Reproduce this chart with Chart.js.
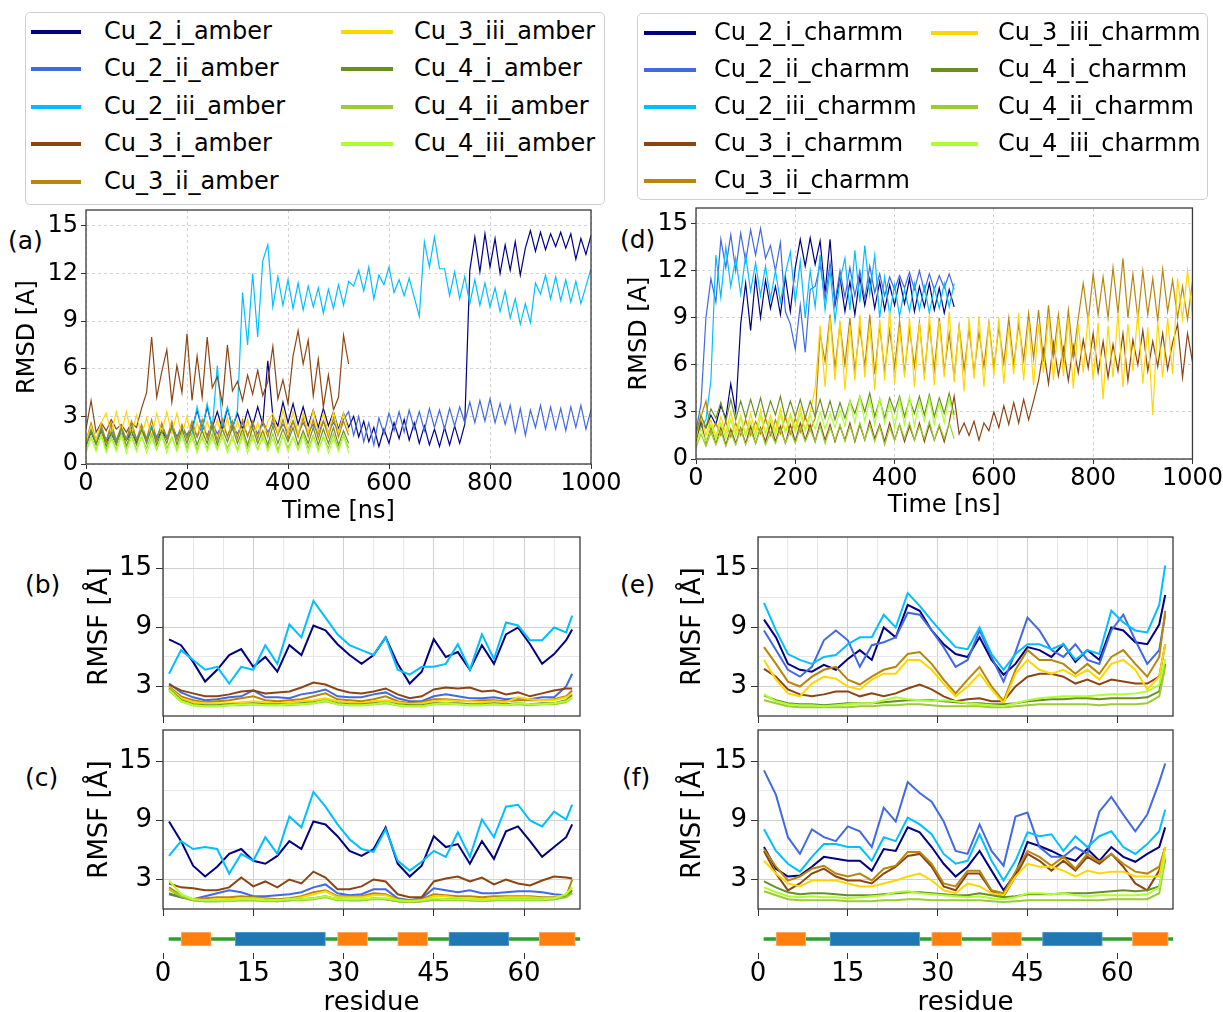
<!DOCTYPE html>
<html>
<head>
<meta charset="utf-8">
<script src="https://cdn.jsdelivr.net/npm/chart.js@4.4.1/dist/chart.umd.min.js"></script>
<style>
body { margin: 0; width: 1223px; height: 1012px; overflow: hidden; background: #fff; position: relative; font-family: "DejaVu Sans", sans-serif; color: #000; }
canvas { position: absolute; }
.legend { position: absolute; border: 1px solid #cfcfcf; border-radius: 5px; box-sizing: border-box; background: #fff; }
.legend .sw { position: absolute; height: 4px; }
.legend .tx { position: absolute; font-size: 24px; line-height: 28px; white-space: nowrap; }
.tag { position: absolute; font-size: 25px; line-height: 30px; }
</style>
</head>
<body>
<div class="tag" style="left:8px;top:226px">(a)</div>
<div class="tag" style="left:620px;top:225px">(d)</div>
<div class="tag" style="left:25px;top:570px">(b)</div>
<div class="tag" style="left:25px;top:763px">(c)</div>
<div class="tag" style="left:620px;top:570px">(e)</div>
<div class="tag" style="left:622px;top:763px">(f)</div>
<canvas id="chartA"></canvas>
<canvas id="chartD"></canvas>
<canvas id="chartB"></canvas>
<canvas id="chartC"></canvas>
<canvas id="chartE"></canvas>
<canvas id="chartF"></canvas>
<canvas id="ssLeft"></canvas>
<canvas id="ssRight"></canvas>
<script>
const names = ['Cu_2_i', 'Cu_2_ii', 'Cu_2_iii', 'Cu_3_i', 'Cu_3_ii', 'Cu_3_iii', 'Cu_4_i', 'Cu_4_ii', 'Cu_4_iii'];
const colors = ['#000080', '#4169e1', '#00bfff', '#8b4513', '#b8860b', '#ffd700', '#6b8e23', '#9acd32', '#adff2f'];

// RMSD sampled every 10 ns
const timeNs = Array.from({length: 101}, (_, i) => i * 10);
const rmsdTickStep = 3;
const timeTickStep = 200;

// amber runs
const rmsdA_2i = [1.2,2.0,1.3,2.1,1.4,1.9,1.3,2.2,1.5,2.0,1.4,2.2,1.6,2.3,1.5,2.1,1.6,2.4,1.7,2.2,1.8,
  2.2,3.4,2.2,3.6,2.3,3.3,2.2,3.5,2.3,3.2,2.2,3.4,2.4,3.6,2.5,6.5,3.0,2.4,3.9,2.6,3.8,2.5,3.6,2.4,3.4,2.3,3.5,2.4,3.3,2.2,3.2,2.3,
  3.0,1.7,2.7,1.4,2.3,1.1,2.2,1.3,2.6,1.6,2.8,1.5,2.6,1.3,2.4,1.2,2.2,1.1,2.3,1.2,2.4,1.3,2.5,
  12.2,14.3,12.1,14.5,12.4,14.2,12.0,13.8,12.2,14.0,11.9,13.6,14.7,13.4,14.6,13.5,14.5,13.7,14.6,13.6,14.5,12.9,14.2,13.2,14.4];
const rmsdA_2ii = [1.3,2.0,1.4,2.1,1.5,2.2,1.4,2.0,1.5,2.3,1.6,2.1,1.5,2.3,1.7,2.4,1.6,2.2,1.7,2.4,
  1.8,2.5,1.7,2.4,1.8,2.6,1.9,2.5,1.8,2.4,1.9,2.6,1.8,2.5,1.9,2.7,2.0,2.6,1.9,2.5,
  2.0,2.7,1.9,2.6,2.0,2.5,1.9,2.7,2.0,2.6,2.1,2.8,
  3.3,1.8,3.0,1.4,2.6,1.2,2.9,1.9,3.2,2.1,3.3,2.0,3.4,2.2,3.3,2.1,3.5,2.3,3.4,2.2,
  3.5,2.4,3.6,2.6,3.9,2.6,4.0,2.7,4.1,2.6,3.8,2.5,3.7,2.0,3.5,1.8,3.4,2.3,3.7,2.2,
  3.6,2.2,3.5,2.1,3.6,2.3,3.7,2.2,3.4];
const rmsdA_2iii = [1.3,2.2,1.4,2.3,1.5,2.4,1.4,2.2,1.6,2.5,1.5,2.3,1.6,2.4,1.5,2.5,1.7,2.3,1.6,2.4,1.7,
  1.9,3.6,2.1,3.8,2.2,6.2,2.5,3.6,2.2,3.4,
  10.8,7.5,12.0,8.0,12.8,13.8,9.9,11.8,10.0,11.6,
  9.8,11.4,9.7,11.2,9.9,11.1,9.5,11.0,9.8,11.3,
  10.0,11.5,11.2,12.2,10.9,12.4,10.4,11.9,11.3,12.4,
  10.8,11.6,10.6,11.7,10.5,9.3,14.0,12.4,14.3,12.3,
  12.3,10.6,12.1,10.4,11.8,10.1,11.6,10.0,11.4,9.9,
  11.1,9.6,10.9,9.2,10.4,8.8,10.1,8.9,11.4,10.7,
  11.9,10.4,11.8,10.3,11.6,10.2,11.5,10.1,11.2,12.3];
const rmsdA_3i = [2.2,4.0,2.0,2.6,2.1,2.8,2.2,2.5,2.0,2.6,2.3,3.5,4.5,8.0,4.2,5.8,7.2,3.9,6.2,4.5,
  8.2,4.0,6.8,4.2,8.0,4.8,5.5,3.8,7.5,4.6,5.2,4.0,5.6,4.4,5.9,4.3,5.2,7.4,4.1,5.3,
  3.8,6.8,8.4,6.3,7.8,4.3,6.6,3.6,5.6,3.4,4.2,8.1,6.3];
const rmsdA_3ii = [1.4,2.6,1.5,2.5,1.4,2.6,1.5,2.4,1.5,2.7,1.5,2.5,1.6,2.8,1.5,2.6,1.6,2.7,1.5,2.5,
  1.6,2.7,1.7,2.8,1.6,2.6,1.5,2.8,1.7,2.7,1.6,2.8,1.7,2.7,1.6,2.7,1.7,2.9,1.8,2.8,
  1.6,2.7,1.7,2.9,1.7,2.8,1.6,2.7,1.7,2.9,1.7,2.7,1.8];
const rmsdA_3iii = [1.4,2.4,1.5,2.6,3.2,1.9,3.3,2.0,3.3,1.8,3.1,1.8,2.9,1.7,3.2,1.9,3.3,1.9,3.2,1.8,
  3.0,1.5,2.6,1.5,2.7,1.6,2.8,1.6,2.9,1.5,2.7,1.6,2.8,1.5,2.6,1.5,2.7,3.2,1.9,3.4,
  2.0,3.3,1.9,3.2,2.0,3.4,2.0,3.2,1.9,3.3,2.0,3.2,2.1];
const rmsdA_4i = [1.1,2.1,1.2,2.2,1.1,2.0,1.2,2.3,1.1,2.1,1.2,2.2,1.3,2.3,1.2,2.1,1.3,2.4,1.2,2.2,
  1.3,2.3,1.2,2.1,1.3,2.4,1.2,2.2,1.4,2.3,1.3,2.2,1.2,2.3,1.3,2.1,1.2,2.4,1.3,2.2,
  1.4,2.3,1.2,2.1,1.3,2.3,1.2,2.2,1.3,2.3,1.2,2.1,1.3];
const rmsdA_4ii = [0.8,1.7,0.9,1.8,0.9,1.7,0.9,1.9,1.0,1.8,0.9,1.7,1.0,1.9,0.9,1.8,1.0,1.7,0.9,1.9,
  1.0,1.8,0.9,1.7,1.0,1.9,0.9,1.8,1.0,1.7,0.9,1.9,1.0,1.8,0.9,1.7,1.0,1.9,0.9,1.8,
  1.0,1.7,0.9,1.9,1.0,1.8,0.9,1.7,1.0,1.9,0.9,1.8,1.0];
const rmsdA_4iii = [0.7,1.7,0.8,1.8,0.7,1.6,0.8,1.8,0.7,1.7,0.8,1.8,0.7,1.6,0.9,1.8,0.7,1.7,0.8,1.8,
  0.8,1.7,0.7,1.8,0.8,1.6,0.9,1.8,0.7,1.7,0.8,1.8,0.7,1.7,0.9,1.8,0.8,1.6,0.7,1.8,
  0.8,1.7,0.9,1.8,0.7,1.7,0.8,1.8,0.7,1.6,0.8,1.8,0.7];

// charmm runs
const rmsdC_2i = [1.4,2.3,2.0,2.8,2.2,3.4,2.6,4.8,3.0,8.6,11.2,8.2,11.6,9.0,11.4,9.6,11.0,9.2,11.6,9.4,
  12.2,14.0,12.3,14.1,12.4,13.9,10.6,14.0,9.8,11.6,9.4,11.3,9.2,11.6,9.8,11.5,9.6,11.3,9.5,11.1,
  9.8,11.4,9.9,11.5,9.4,11.0,9.7,11.2,9.5,10.9,9.3,10.8,9.7];
const rmsdC_2ii = [1.8,3.5,9.0,11.5,10.0,14.0,12.2,14.3,12.0,14.4,12.6,14.6,13.0,14.7,12.8,13.6,12.0,13.8,9.4,8.6,
  7.0,9.8,6.8,10.8,11.0,12.4,10.2,12.5,10.0,12.0,10.3,12.2,10.4,12.0,10.2,12.3,10.6,11.8,10.4,11.6,
  10.8,11.7,10.9,11.9,10.8,12.0,10.7,11.8,10.8,11.7,10.9,11.8,10.8];
const rmsdC_2iii = [1.6,2.0,2.5,5.0,13.0,10.3,13.5,11.0,12.8,10.5,13.0,10.7,12.5,10.4,12.3,10.2,12.0,10.0,11.8,13.2,
  10.0,12.6,9.0,12.0,9.7,13.0,9.5,12.0,8.8,11.4,12.8,9.5,13.3,10.0,13.6,10.5,13.0,9.0,11.6,9.2,
  11.1,9.1,10.8,9.4,11.2,9.5,11.0,9.3,10.9,9.6,11.2,9.7,11.2];
const rmsdC_3i = [1.1,2.4,1.0,2.1,1.0,2.0,0.9,1.9,1.0,2.0,1.0,2.1,1.0,2.0,1.1,2.2,1.1,2.1,1.0,2.2,
  1.1,2.3,1.2,2.2,1.1,2.3,1.2,2.2,1.1,2.1,1.2,2.3,1.1,2.2,1.2,2.4,1.3,2.2,1.1,2.3,
  1.2,2.2,1.1,2.1,1.2,2.3,1.1,2.2,1.2,2.1,1.1,2.3,
  4.0,1.6,2.3,1.5,2.4,1.2,2.3,1.8,3.0,2.0,3.4,2.2,3.6,2.3,3.8,2.5,3.7,5.0,7.0,4.8,
  7.4,5.3,7.1,5.0,7.2,5.5,7.6,5.8,8.0,5.5,7.5,5.2,7.3,5.6,8.0,5.0,7.6,6.0,8.2,5.6,
  7.5,5.9,8.0,5.7,7.4,8.6,5.2,8.0,6.2];
const rmsdC_3ii = [1.4,2.7,3.7,1.6,2.3,1.5,2.4,1.4,2.3,1.5,2.5,1.5,2.4,1.6,2.6,1.5,2.5,1.6,2.7,1.6,2.6,1.7,2.7,1.8,2.6,
  8.0,6.2,9.2,5.8,8.6,6.0,9.0,5.6,8.4,5.9,9.2,5.4,8.5,5.6,8.2,5.8,8.8,5.5,8.3,5.9,
  8.7,5.4,8.6,5.7,9.0,5.6,8.0,5.2,8.5,5.7,8.3,5.5,8.1,5.9,8.7,5.8,8.4,6.1,9.0,6.0,
  8.6,6.3,9.3,6.4,9.5,6.2,9.8,6.6,9.2,6.3,9.5,6.5,9.0,
  11.2,8.8,11.8,9.2,11.6,9.0,12.2,9.3,12.8,9.0,11.8,8.9,12.0,9.2,11.5,8.8,12.1,9.4,11.4,9.0,11.0,8.9,11.3];
const rmsdC_3iii = [1.3,2.9,1.5,2.5,1.4,2.7,1.6,3.0,1.7,2.8,1.5,2.9,1.7,3.1,1.6,2.8,1.8,3.2,1.7,2.9,1.9,3.3,1.8,3.0,
  4.5,8.5,4.6,9.0,5.0,8.8,4.4,8.5,5.0,9.2,5.2,8.6,4.4,8.9,5.0,9.5,4.8,8.4,5.2,9.0,
  4.6,8.7,5.0,9.2,4.7,8.8,5.2,9.4,4.9,8.5,4.3,9.0,5.1,9.1,4.6,8.7,5.3,9.0,4.8,8.4,
  5.4,9.3,5.0,8.8,4.7,8.6,5.5,9.1,5.0,8.9,5.3,9.0,4.5,8.6,5.5,9.2,5.0,8.7,3.8,8.5,
  5.2,9.3,4.6,8.6,5.6,9.4,4.8,8.4,2.8,8.8,5.2,9.0,5.4,
  11.5,8.9,12.0,9.2];
const rmsdC_4i = [1.6,2.8,2.0,3.2,2.6,3.6,2.4,3.8,2.5,3.7,2.6,3.8,2.7,3.9,2.6,3.7,2.8,4.0,2.6,3.7,
  2.7,3.8,2.6,3.7,2.7,3.8,2.6,3.7,2.5,3.6,2.6,3.7,2.9,4.0,3.0,4.2,2.7,3.8,2.6,3.9,
  3.0,4.0,2.7,3.8,2.9,4.0,2.8,4.1,2.7,3.9,2.9,4.2,2.8];
const rmsdC_4ii = [0.7,1.6,0.8,1.7,0.9,1.8,0.8,1.7,0.9,1.9,0.9,1.8,1.0,1.9,0.9,1.7,1.0,1.9,1.0,1.8,
  1.0,2.0,1.1,1.9,1.1,2.1,1.0,2.0,1.2,2.2,1.1,2.1,1.2,2.3,1.2,2.2,1.1,2.1,0.9,2.0,
  1.2,2.2,1.3,2.3,1.2,2.1,1.3,2.4,1.2,2.2,1.3,2.3,1.3];
const rmsdC_4iii = [0.9,1.9,1.1,2.2,1.2,2.3,1.3,2.5,1.4,2.6,1.5,2.4,1.4,2.7,1.6,2.5,1.5,2.8,1.7,2.7,
  1.7,2.9,1.8,2.8,1.9,3.0,1.9,2.9,2.0,3.1,2.1,3.7,2.3,4.0,2.4,3.8,2.2,3.9,2.3,3.6,
  2.0,3.8,2.2,4.0,2.1,3.7,2.4,3.9,2.2,3.6,2.3,3.9,2.5];

// RMSF per residue
const residues = [1,3,5,7,9,11,13,15,17,19,21,23,25,27,29,31,33,35,37,39,41,43,45,47,49,51,53,55,57,59,61,63,65,67,68];
const rmsfTickLabels = [3, 9, 15];
const residueTickStep = 15;

const rmsfB_2i = [7.8,7.2,5.5,3.5,4.7,6.2,6.8,5.0,6.0,4.5,7.2,6.2,9.2,8.7,7.3,6.2,5.3,6.2,8.0,5.3,3.3,4.5,7.8,6.0,6.5,4.7,7.2,5.3,8.3,9.0,7.3,5.3,6.3,7.7,8.8];
const rmsfB_2ii = [3.3,2.4,1.9,1.6,1.7,1.9,2.0,2.6,1.9,1.9,1.8,2.2,2.4,2.7,2.0,1.9,1.9,2.2,2.4,1.8,1.5,1.5,2.0,2.2,2.0,1.8,1.8,1.9,1.7,1.8,1.7,1.9,1.9,3.0,4.3];
const rmsfB_2iii = [4.3,6.7,5.7,4.7,5.0,3.3,5.0,4.7,7.2,5.3,9.3,8.0,11.7,10.0,8.3,7.2,6.7,6.2,8.0,4.7,4.2,5.0,5.0,5.3,7.3,4.7,8.3,5.8,9.5,9.2,7.7,7.7,9.0,8.5,10.2];
const rmsfB_3i = [3.2,2.6,2.3,2.0,2.0,2.2,2.5,2.6,2.3,2.4,2.5,2.9,3.4,3.2,2.7,2.4,2.3,2.5,2.8,2.2,1.8,2.0,2.7,2.9,2.8,2.9,2.5,2.6,2.2,2.4,2.0,2.3,2.6,2.8,2.8];
const rmsfB_3ii = [3.0,2.0,1.6,1.4,1.5,1.6,1.8,2.0,1.6,1.5,1.6,1.7,2.0,2.3,1.7,1.6,1.5,1.7,2.0,1.5,1.3,1.4,1.7,1.7,1.6,1.5,1.6,1.6,1.5,1.6,1.6,1.6,1.7,2.0,2.6];
const rmsfB_3iii = [2.9,1.8,1.4,1.3,1.3,1.3,1.4,1.5,1.4,1.3,1.4,1.5,1.6,1.8,1.5,1.4,1.3,1.5,1.6,1.4,1.2,1.3,1.5,1.6,1.5,1.5,1.4,1.5,1.4,1.9,1.7,1.6,1.6,1.9,2.3];
const rmsfB_4i = [2.8,1.6,1.2,1.1,1.1,1.2,1.2,1.3,1.2,1.2,1.2,1.3,1.4,1.6,1.3,1.2,1.2,1.3,1.4,1.2,1.1,1.1,1.3,1.3,1.3,1.2,1.2,1.3,1.2,1.3,1.2,1.3,1.3,1.6,2.1];
const rmsfB_4ii = [2.6,1.5,1.1,1.0,1.0,1.1,1.1,1.2,1.1,1.1,1.1,1.2,1.3,1.5,1.2,1.1,1.1,1.2,1.3,1.1,1.0,1.0,1.2,1.2,1.2,1.1,1.1,1.2,1.1,1.2,1.1,1.2,1.2,1.4,1.9];
const rmsfB_4iii = [2.7,1.5,1.1,1.0,1.0,1.1,1.2,1.2,1.1,1.1,1.2,1.2,1.3,1.6,1.2,1.1,1.1,1.2,1.4,1.1,1.0,1.0,1.2,1.3,1.2,1.1,1.1,1.2,1.1,1.3,1.2,1.2,1.3,1.5,1.9];

const rmsfC_2i = [8.9,6.9,4.4,3.3,4.3,5.6,6.1,4.9,4.6,5.4,6.9,6.1,8.9,8.6,7.4,5.9,5.4,6.1,8.3,4.6,3.3,4.4,7.4,6.3,6.6,4.6,6.9,5.1,7.9,8.4,6.9,5.3,6.3,7.3,8.6];
const rmsfC_2ii = [1.5,1.2,1.0,1.3,1.6,1.9,1.7,1.3,1.3,1.4,1.5,1.7,2.2,2.5,1.6,1.4,1.5,2.0,2.0,1.1,0.9,1.1,2.1,1.9,1.7,1.9,1.6,1.6,1.7,1.8,1.8,1.7,1.5,1.4,1.6];
const rmsfC_2iii = [5.4,6.9,6.1,6.3,6.1,3.6,5.6,4.9,7.3,5.6,9.4,8.3,11.9,10.4,8.6,7.1,6.1,5.8,8.1,4.9,3.9,4.8,5.9,5.3,7.8,5.3,9.1,7.3,10.4,10.6,9.0,8.4,9.9,9.1,10.6];
const rmsfC_3i = [2.6,2.2,2.1,1.9,1.9,2.2,3.2,2.3,2.8,2.2,3.0,2.6,3.8,3.2,2.0,2.0,2.3,3.0,2.8,1.5,1.2,1.2,2.8,3.1,3.3,2.8,3.2,2.5,3.0,2.6,2.4,2.9,3.3,3.2,3.1];
const rmsfC_3ii = [2.2,1.4,1.0,1.1,1.2,1.2,1.3,1.2,1.1,1.0,1.1,1.3,1.7,1.9,1.3,1.3,1.3,1.6,1.5,1.0,0.9,1.0,1.5,1.4,1.3,1.3,1.2,1.3,1.3,1.3,1.3,1.2,1.2,1.3,3.0];
const rmsfC_3iii = [2.0,1.3,1.0,0.9,1.0,1.0,1.1,1.1,1.0,0.9,1.0,1.2,1.5,1.8,1.2,1.2,1.2,1.4,1.4,0.9,0.8,0.9,1.3,1.3,1.1,1.1,1.0,1.1,1.2,1.2,1.2,1.1,1.1,1.5,2.2];
const rmsfC_4i = [1.6,1.2,0.9,0.8,0.8,0.9,0.9,0.9,0.9,0.8,0.9,1.0,1.1,1.3,1.0,0.9,0.9,1.1,1.0,0.8,0.7,0.8,1.0,1.0,1.0,0.9,0.9,0.9,1.0,1.0,1.0,1.0,1.0,1.3,1.9];
const rmsfC_4ii = [2.0,1.3,0.9,0.8,0.8,0.8,0.9,0.9,0.8,0.8,0.9,0.9,1.0,1.2,0.9,0.9,0.9,1.0,1.0,0.8,0.7,0.8,0.9,0.9,0.9,0.9,0.8,0.9,0.9,0.9,0.9,0.9,1.0,1.2,1.6];
const rmsfC_4iii = [2.9,1.5,1.0,0.9,0.9,0.9,1.0,1.0,0.9,0.9,1.0,1.0,1.1,1.3,1.0,1.0,1.0,1.1,1.1,0.9,0.8,0.9,1.1,1.0,1.0,1.0,0.9,1.0,1.0,1.0,1.0,1.0,1.1,1.5,2.2];

const rmsfE_2i = [9.8,8.0,5.3,4.7,4.5,5.2,4.7,5.8,6.7,5.7,9.0,8.0,11.3,10.7,8.7,7.3,6.3,6.0,8.0,5.7,4.2,5.3,7.0,6.7,6.0,7.3,5.5,6.7,5.7,9.0,8.7,7.5,7.3,9.3,12.3];
const rmsfE_2ii = [8.7,6.7,4.7,4.0,5.0,7.7,8.7,7.7,5.0,7.2,7.5,8.0,10.5,10.3,8.7,7.0,5.0,5.7,8.7,6.0,3.5,6.5,10.0,8.7,6.7,6.0,7.3,5.7,5.3,8.7,10.3,7.7,5.3,6.7,10.3];
const rmsfE_2iii = [11.5,8.7,6.3,5.7,5.3,6.0,6.2,7.3,8.0,8.0,10.3,9.0,12.5,11.2,9.7,8.3,7.0,6.8,9.0,6.3,4.7,6.3,7.3,7.3,6.8,7.3,5.7,6.7,6.3,10.7,9.5,8.7,8.5,11.3,15.3];
const rmsfE_3i = [4.8,4.0,2.7,2.2,2.0,2.2,2.5,2.5,2.0,2.3,2.0,2.3,2.8,3.2,2.7,2.0,1.5,1.7,1.8,1.5,1.5,3.0,4.0,4.3,4.3,4.0,3.3,3.7,3.2,3.7,3.5,3.3,3.3,4.0,7.3];
const rmsfE_3ii = [7.0,5.3,3.5,3.0,4.0,4.7,5.0,3.7,3.2,4.0,4.7,5.0,6.3,6.5,5.3,3.7,2.3,3.7,5.0,3.0,1.5,4.7,6.7,5.7,5.7,5.3,4.3,5.3,4.3,6.0,6.7,5.3,4.0,6.0,10.7];
const rmsfE_3iii = [5.7,3.7,2.3,2.0,3.3,4.0,3.8,3.0,2.7,3.7,4.3,4.3,5.7,5.7,4.7,3.3,2.0,3.0,4.3,2.7,1.3,4.3,5.7,4.7,4.3,4.7,4.0,4.7,3.7,5.3,5.7,4.7,2.7,4.0,7.3];
const rmsfE_4i = [2.1,1.6,1.3,1.2,1.2,1.1,1.2,1.3,1.3,1.3,1.4,1.5,1.6,1.6,1.6,1.5,1.4,1.3,1.3,1.2,1.2,1.3,1.5,1.6,1.7,1.7,1.8,1.8,1.7,1.8,1.8,1.8,1.9,2.5,5.3];
const rmsfE_4ii = [1.6,1.3,1.0,0.9,0.9,0.9,0.9,0.9,1.0,1.0,1.1,1.1,1.2,1.2,1.1,1.0,1.0,1.0,1.0,0.9,0.9,1.0,1.1,1.2,1.2,1.2,1.2,1.2,1.1,1.2,1.2,1.2,1.3,2.0,5.0];
const rmsfE_4iii = [2.2,1.5,1.2,1.1,1.1,1.0,1.1,1.2,1.3,1.3,1.6,1.9,1.7,1.6,1.5,1.6,1.5,1.3,1.2,1.1,1.0,1.3,1.6,1.8,1.9,2.0,2.0,2.0,2.1,2.2,2.2,2.3,2.5,3.2,5.8];

const rmsfF_2i = [6.3,4.1,3.3,3.4,4.3,5.3,5.1,4.9,4.9,3.9,6.1,5.9,8.3,7.8,6.3,4.6,3.3,4.3,5.9,3.9,1.9,3.6,6.8,6.4,5.9,5.3,4.9,6.1,4.9,6.3,5.3,4.8,5.6,6.3,8.3];
const rmsfF_2ii = [14.1,11.6,7.3,5.6,8.1,7.3,6.9,8.4,7.9,6.3,10.3,8.9,12.9,11.8,10.9,8.9,5.9,5.6,8.6,5.9,4.4,9.4,9.8,6.3,5.3,5.3,6.3,5.6,9.9,11.4,9.6,7.9,9.6,12.9,14.8];
const rmsfF_2iii = [8.1,5.9,4.6,3.8,5.3,6.6,6.6,6.3,6.3,4.9,7.3,6.9,9.3,8.6,7.6,5.6,4.6,4.9,7.6,4.9,2.9,4.9,7.8,7.4,7.6,5.9,7.4,6.3,7.4,7.9,6.3,5.6,6.6,7.9,10.1];
const rmsfF_3i = [5.9,3.6,1.9,2.6,3.6,4.1,3.3,2.9,2.9,2.6,3.6,4.3,5.4,5.6,4.3,2.3,1.9,3.6,3.6,1.8,1.3,3.3,5.6,4.9,3.9,4.9,3.9,5.3,4.6,5.6,4.3,2.6,1.9,3.9,6.3];
const rmsfF_3ii = [6.1,4.3,2.9,3.3,4.1,4.4,3.6,3.3,3.6,2.9,4.1,4.4,5.8,5.8,4.6,2.6,2.3,3.9,3.9,1.9,1.6,3.8,5.9,5.3,4.4,5.3,4.1,5.6,4.8,5.6,4.6,3.8,3.6,4.3,6.3];
const rmsfF_3iii = [4.9,3.6,2.6,2.3,2.9,2.9,2.9,2.6,2.3,2.3,2.6,2.9,3.3,3.6,2.9,1.9,1.6,2.6,2.3,1.6,1.4,3.3,4.6,4.3,4.3,3.9,3.3,3.9,3.6,3.8,3.8,3.3,3.3,3.3,6.3];
const rmsfF_4i = [2.8,2.2,1.7,1.5,1.6,1.6,1.5,1.4,1.4,1.4,1.5,1.6,1.7,1.7,1.6,1.5,1.4,1.4,1.6,1.4,1.2,1.3,1.5,1.5,1.5,1.6,1.6,1.6,1.7,1.8,1.9,1.8,1.9,2.3,5.0];
const rmsfF_4ii = [1.8,1.4,1.0,0.9,0.9,0.9,0.9,0.8,0.8,0.8,0.9,0.9,1.0,1.0,0.9,0.9,0.9,0.9,0.9,0.8,0.7,0.8,0.9,0.9,0.9,0.9,0.9,0.9,0.9,1.0,1.0,1.0,1.0,1.6,5.2];
const rmsfF_4iii = [2.2,1.7,1.3,1.2,1.3,1.2,1.2,1.1,1.2,1.3,1.4,1.7,1.8,1.6,1.5,1.4,1.3,1.2,1.3,1.1,1.0,1.2,1.6,1.6,1.5,1.6,1.4,1.3,1.4,1.4,1.4,1.4,1.5,2.2,5.6];

// secondary structure (residue spans)
const strandSpans = [[3, 8], [29, 34], [39, 44], [62.5, 68.5]];
const helixSpans = [[12, 27], [47.5, 57.5]];
const chainSpan = [1, 69.5];

Chart.defaults.font.family = '"DejaVu Sans", sans-serif';
Chart.defaults.color = '#000';

const xy = (xs, ys) => ys.map((y, k) => ({x: xs[k], y: y}));

const frame = {
  id: 'frame',
  afterDatasetsDraw(chart) {
    const {ctx, chartArea: a} = chart;
    ctx.save();
    ctx.strokeStyle = '#3a3a3a';
    ctx.lineWidth = 1.3;
    ctx.strokeRect(a.left, a.top, a.right - a.left, a.bottom - a.top);
    ctx.restore();
  }
};

function place(id, x, y, w, h) {
  const cv = document.getElementById(id);
  cv.width = w; cv.height = h;
  cv.style.left = x + 'px'; cv.style.top = y + 'px';
  return cv;
}

function lineSets(series, xs, width) {
  return series.map((ys, i) => ({
    label: names[i],
    data: xy(xs, ys),
    borderColor: colors[i],
    borderWidth: width,
    pointRadius: 0,
    order: 9 - i
  }));
}

// plotTop: wanted top edge of the plot area on the page
function rmsdChart(id, x, plotTop, plotW, plotH, padRight, xH, titlePad, series) {
  const yW = 86, padTop = 20;
  const cv = place(id, x, plotTop - padTop, yW + plotW + padRight, padTop + plotH + xH);
  return new Chart(cv, {
    type: 'line',
    data: { datasets: lineSets(series, timeNs, 1.2) },
    options: {
      responsive: false, animation: false,
      layout: { padding: { top: padTop, right: padRight, left: 0, bottom: 0 } },
      plugins: { legend: { display: false }, tooltip: { enabled: false } },
      scales: {
        x: {
          type: 'linear', min: 0, max: 1000,
          ticks: { stepSize: timeTickStep, font: { size: 24 }, padding: 0, maxRotation: 0, callback: v => String(v) },
          grid: { color: '#d2d2d2', tickLength: 5, tickColor: '#333' },
          border: { display: false, dash: [3, 3] },
          title: { display: true, text: 'Time [ns]', font: { size: 24 }, padding: 0 },
          afterFit: s => { s.height = xH; }
        },
        y: {
          min: 0, max: 16,
          ticks: { stepSize: rmsdTickStep, includeBounds: false, font: { size: 24 }, padding: 3 },
          grid: { color: '#d2d2d2', tickLength: 5, tickColor: '#333' },
          border: { display: false, dash: [3, 3] },
          title: { display: true, text: 'RMSD [A]', font: { size: 24 }, padding: { top: titlePad, bottom: 0 } },
          afterFit: s => { s.width = yW; }
        }
      }
    },
    plugins: [frame]
  });
}

function rmsfChart(id, x, plotTop, yW, plotW, titlePad, series) {
  const padTop = 22, padRight = 10, xH = 22, plotH = 179;
  const cv = place(id, x, plotTop - padTop, yW + plotW + padRight, padTop + plotH + xH);
  const major15 = c => c.tick && c.tick.value % residueTickStep === 0;
  const majorY = c => c.tick && rmsfTickLabels.includes(c.tick.value);
  return new Chart(cv, {
    type: 'line',
    data: { datasets: lineSets(series, residues, 2) },
    options: {
      responsive: false, animation: false,
      layout: { padding: { top: padTop, right: padRight, left: 0, bottom: 0 } },
      plugins: { legend: { display: false }, tooltip: { enabled: false } },
      scales: {
        x: {
          type: 'linear', min: 0, max: 69.3,
          ticks: { stepSize: 5, includeBounds: false, autoSkip: false, callback: () => '' },
          grid: {
            color: c => major15(c) ? '#d0d0d0' : '#e8e8e8',
            tickLength: 7,
            tickColor: c => major15(c) ? '#333' : 'rgba(0,0,0,0)'
          },
          border: { display: false },
          afterFit: s => { s.height = xH; }
        },
        y: {
          min: 0, max: 18.2,
          ticks: {
            stepSize: 3, includeBounds: false, autoSkip: false, font: { size: 26 }, padding: 4,
            callback: v => rmsfTickLabels.includes(v) ? v : ''
          },
          afterBuildTicks: s => { s.ticks = s.ticks.filter(t => t.value > 0 && t.value < 18); },
          grid: {
            color: c => majorY(c) ? '#d0d0d0' : '#e8e8e8',
            tickLength: 7,
            tickColor: c => majorY(c) ? '#333' : 'rgba(0,0,0,0)'
          },
          border: { display: false },
          title: { display: true, text: 'RMSF [Å]', font: { size: 26 }, padding: { top: titlePad, bottom: 0 } },
          afterFit: s => { s.width = yW; }
        }
      }
    },
    plugins: [frame]
  });
}

function ssChart(id, x, plotW) {
  const padL = 20, padR = 30, padTop = 5, plotH = 28, xH = 67;
  const cv = place(id, x, 920, padL + plotW + padR, padTop + plotH + xH);
  const bars = (spans, fill, edge) => ({
    data: spans.map(s => ({ x: s, y: 'ss' })),
    backgroundColor: fill, borderColor: edge, borderWidth: 1, borderSkipped: false,
    barThickness: 14, grouped: false, order: 1
  });
  return new Chart(cv, {
    type: 'bar',
    data: {
      labels: ['ss'],
      datasets: [
        bars(strandSpans, '#ff7f0e', '#ffb27a'),
        bars(helixSpans, '#1f77b4', '#5f9fd0'),
        { data: [{ x: chainSpan, y: 'ss' }], backgroundColor: '#2ca02c', borderWidth: 0,
          barThickness: 3, grouped: false, order: 2 }
      ]
    },
    options: {
      indexAxis: 'y',
      responsive: false, animation: false,
      layout: { padding: { top: padTop, right: padR, left: padL, bottom: 0 } },
      plugins: { legend: { display: false }, tooltip: { enabled: false } },
      scales: {
        x: {
          type: 'linear', min: 0, max: 69.3,
          ticks: { stepSize: residueTickStep, includeBounds: false, font: { size: 26 }, padding: 0 },
          grid: { drawOnChartArea: false, tickLength: 6, tickColor: '#333' },
          border: { display: false },
          title: { display: true, text: 'residue', font: { size: 26 }, padding: { top: 0, bottom: 1 } },
          afterFit: s => { s.height = xH; }
        },
        y: { display: false }
      }
    }
  });
}

function legendBox(x, y, w, h, suffix, swX, txX, rows) {
  const box = document.createElement('div');
  box.className = 'legend';
  Object.assign(box.style, { left: x + 'px', top: y + 'px', width: w + 'px', height: h + 'px' });
  names.forEach((n, i) => {
    const col = i < 5 ? 0 : 1, row = i < 5 ? i : i - 5;
    const cy = rows[0] + row * rows[1];
    const sw = document.createElement('div');
    sw.className = 'sw';
    Object.assign(sw.style, { left: swX[col][0] + 'px', width: (swX[col][1] - swX[col][0]) + 'px', top: (cy - 2) + 'px', background: colors[i] });
    const tx = document.createElement('div');
    tx.className = 'tx';
    tx.textContent = n + suffix;
    Object.assign(tx.style, { left: txX[col] + 'px', top: (cy - 15) + 'px' });
    box.appendChild(sw); box.appendChild(tx);
  });
  document.body.appendChild(box);
}

legendBox(25, 12, 580, 193, '_amber', [[5, 55], [315, 367]], [78, 388], [19, 37.4]);
legendBox(637, 13, 571, 187, '_charmm', [[6, 58], [293, 340]], [76, 360], [19, 37]);

rmsdChart('chartA', 0, 210, 505, 254, 35, 62, 13.6,
  [rmsdA_2i, rmsdA_2ii, rmsdA_2iii, rmsdA_3i, rmsdA_3ii, rmsdA_3iii, rmsdA_4i, rmsdA_4ii, rmsdA_4iii]);
rmsdChart('chartD', 610, 208, 497, 251, 30, 61, 15.6,
  [rmsdC_2i, rmsdC_2ii, rmsdC_2iii, rmsdC_3i, rmsdC_3ii, rmsdC_3iii, rmsdC_4i, rmsdC_4ii, rmsdC_4iii]);

rmsfChart('chartB', 60, 537, 103, 417, 24.4,
  [rmsfB_2i, rmsfB_2ii, rmsfB_2iii, rmsfB_3i, rmsfB_3ii, rmsfB_3iii, rmsfB_4i, rmsfB_4ii, rmsfB_4iii]);
rmsfChart('chartC', 60, 730, 103, 417, 24.4,
  [rmsfC_2i, rmsfC_2ii, rmsfC_2iii, rmsfC_3i, rmsfC_3ii, rmsfC_3iii, rmsfC_4i, rmsfC_4ii, rmsfC_4iii]);
rmsfChart('chartE', 650, 537, 108, 415, 27.4,
  [rmsfE_2i, rmsfE_2ii, rmsfE_2iii, rmsfE_3i, rmsfE_3ii, rmsfE_3iii, rmsfE_4i, rmsfE_4ii, rmsfE_4iii]);
rmsfChart('chartF', 650, 730, 108, 415, 27.4,
  [rmsfF_2i, rmsfF_2ii, rmsfF_2iii, rmsfF_3i, rmsfF_3ii, rmsfF_3iii, rmsfF_4i, rmsfF_4ii, rmsfF_4iii]);

ssChart('ssLeft', 143, 417);
ssChart('ssRight', 738, 415);
</script>
</body>
</html>
